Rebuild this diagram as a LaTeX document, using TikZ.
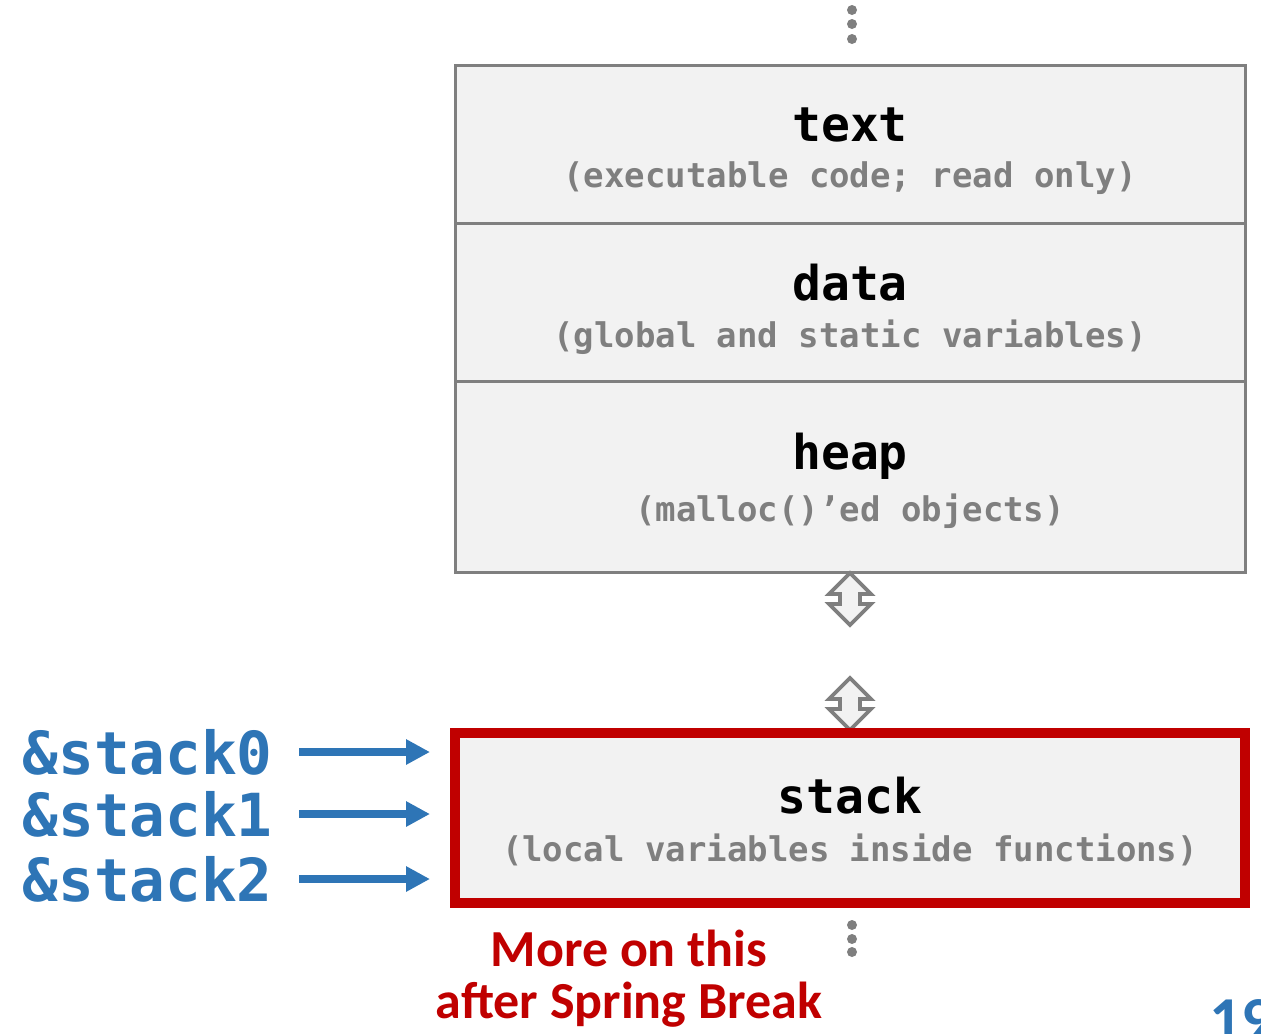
\documentclass[tikz,border=0pt]{standalone}
\usepackage{fontspec}
\setmonofont{DejaVu Sans Mono}
\newfontfamily\slidefont{Carlito}
\usetikzlibrary{arrows.meta,positioning}
\definecolor{segfill}{HTML}{F2F2F2}
\definecolor{seggray}{HTML}{7F7F7F}
\definecolor{ptrblue}{HTML}{2E75B6}
\definecolor{stackred}{HTML}{C00000}
\tikzset{
  segbox/.style={draw=seggray, fill=segfill, line width=2.25pt, minimum width=592.5pt, inner sep=0pt},
  segname/.style={font=\ttfamily\bfseries\fontsize{36pt}{40pt}\selectfont, inner sep=0pt},
  segnote/.style={font=\ttfamily\bfseries\fontsize{25.5pt}{30pt}\selectfont, text=seggray, inner sep=0pt},
  ptrlabel/.style={font=\ttfamily\bfseries\fontsize{44.5pt}{50pt}\selectfont, text=ptrblue, inner sep=0pt, anchor=east},
  ptr/.style={draw=ptrblue, line width=6pt, -{Triangle[length=18pt,width=18pt]}, shorten <=19.5pt},
  growth/.style={draw=seggray, fill=segfill, line width=2.8pt, line join=miter},
  dot/.style={circle, fill=seggray, inner sep=0pt, minimum size=7.5pt},
  remark/.style={font=\slidefont\bfseries\fontsize{39pt}{44pt}\selectfont, text=stackred, inner sep=0pt},
}
\begin{document}
\begin{tikzpicture}[x=0.75pt, y=-0.75pt]
\useasboundingbox (0,0) rectangle (1261,1033);
% dots above the segments
\foreach \y [count=\i] in {10,24,39} {
  \node[dot] (top\i) at (852,\y) {};
}
% memory segments
\node[segbox, minimum height=118.5pt] (textseg) at (850,144) {};
\node[segbox, minimum height=118.5pt] (dataseg) at (850,302) {};
\node[segbox, minimum height=143.25pt] (heapseg) at (850,476.5) {};
\node[segname] (textname) at (850,125) {text};
\node[segnote] (textnote) at (850,178) {(executable code; read only)};
\node[segname] (dataname) at (850,283) {data};
\node[segnote] (datanote) at (850,337) {(global and static variables)};
\node[segname] (heapname) at (850,456) {heap};
\node[segnote] (heapnote) at (850,511) {(malloc()’ed objects)};
% growth arrows between heap and stack
\foreach \y in {573,678} {
  \draw[growth, shift={(0,\y)}] (850,0) -- (871,21) -- (860,21) -- (860,31) -- (871,31)
    -- (850,52) -- (829,31) -- (840,31) -- (840,21) -- (829,21) -- cycle;
}
% stack
\node[segbox, draw=stackred, line width=7.5pt, minimum height=127.5pt] (stackseg) at (850,818) {};
\node[segname] (stackname) at (850,796) {stack};
\node[segnote] (stacknote) at (850,850) {(local variables inside functions)};
% pointers into the stack
\foreach \n/\y in {0/752,1/814,2/879} {
  \node[ptrlabel] (s\n) at (273,\y) {\&stack\n};
  \coordinate (p\n) at (430,\y);
  \draw[ptr] (s\n) -- (p\n);
}
% dots below the stack
\foreach \y [count=\i] in {925,939,952} {
  \node[dot] (bot\i) at (852,\y) {};
}
\node[remark] (more) at (629,948) {More on this};
\node[remark] (later) at (629,1005) {after Spring Break};
\node[font=\slidefont\bfseries\fontsize{48pt}{52pt}\selectfont, text=ptrblue, inner sep=0pt, anchor=base west] (pageno) at (1209,1041) {19};
\end{tikzpicture}
\end{document}
